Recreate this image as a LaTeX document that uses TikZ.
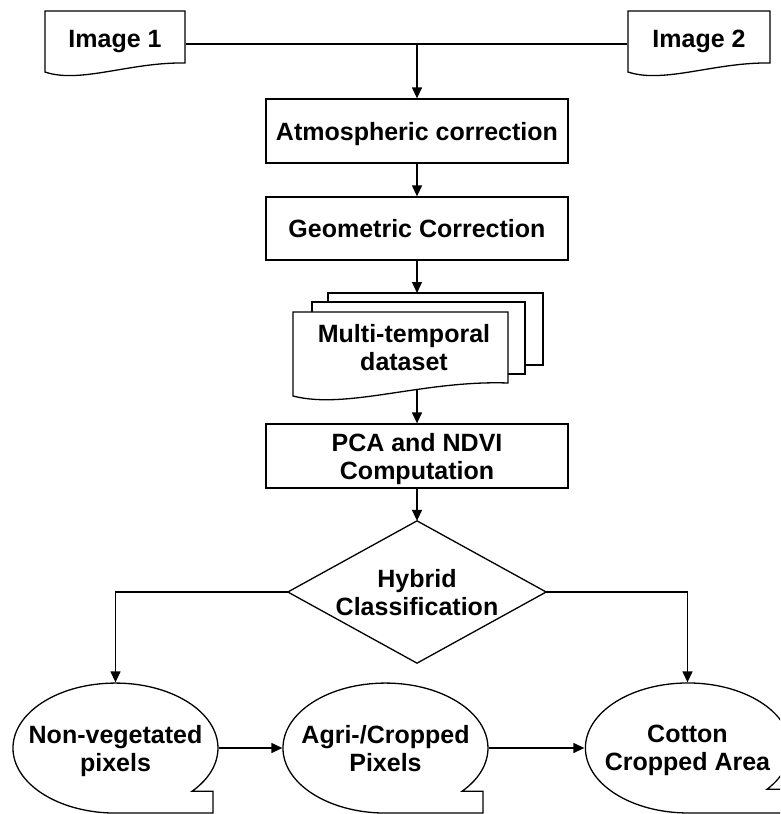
\documentclass[tikz,border=0pt]{standalone}
\usepackage{fontspec}
\setmainfont{Liberation Sans}
\usetikzlibrary{arrows.meta,calc}
\begin{document}
\begin{tikzpicture}[x=1pt,y=-1pt,
  font=\fontsize{25}{28}\selectfont\bfseries,
  line width=1.3pt,
  shapeline/.style={draw=black, line width=1.3pt, fill=white},
  outline/.style={draw=black, line width=1.3pt},
  arr/.style={-{Triangle[length=11pt,width=10pt]}, line width=1.3pt},
  procbox/.style={draw, line width=1.3pt, minimum width=302pt, minimum height=64pt, inner sep=0pt, align=center, text depth=0pt},
  lbl/.style={align=center, inner sep=0pt, text depth=0pt},
  oval/.style={rectangle, minimum width=205pt, minimum height=130pt, inner sep=0pt, align=center, text depth=0pt},
  decision/.style={rectangle, minimum width=257pt, minimum height=141pt, inner sep=0pt, align=center, text depth=0pt}]
\path[use as bounding box, clip] (0,0) rectangle (780,814);

% input documents
\draw[shapeline] (45,72) -- (45,11) -- (185,11) -- (185,63) .. controls (130,62) and (80,84) .. (45,72) -- cycle;
\node[lbl, minimum width=140pt] (img1) at (115,39) {Image 1};
\draw[shapeline] (628,72) -- (628,11) -- (770,11) -- (770,63) .. controls (715,62) and (664,84) .. (628,72) -- cycle;
\node[lbl, minimum width=142pt] (img2) at (699,39) {Image 2};
\coordinate (join) at (417,44);
\draw (img1.east |- join) -- (img2.west |- join);

% process boxes
\node[procbox] (atm) at (417,131) {Atmospheric correction};
\node[procbox, minimum height=63pt] (geo) at (417,228.5) {Geometric Correction};
\draw[arr] (join) -- (atm);
\draw[arr] (atm) -- (geo);

% multi-temporal stack
\draw[shapeline] (328,293) rectangle (543,365);
\draw[shapeline] (312,302) rectangle (525,374);
\draw[shapeline] (293,396) -- (293,312) -- (508,312) -- (508,383) .. controls (423,380) and (347,410) .. (293,396) -- cycle;
\node[lbl] (mt) at (404,347) {Multi-temporal\\dataset};
\coordinate (mtin) at (417,293);
\coordinate (mtout) at (417,390);
\draw[arr] (geo) -- (mtin);

\node[procbox] (pca) at (417,456) {PCA and NDVI\\Computation};
\draw[arr] (mtout) -- (pca);

% decision
\node[decision] (hyb) at (417,592) {Hybrid\\Classification};
\draw[outline] (hyb.north) -- (hyb.east) -- (hyb.south) -- (hyb.west) -- cycle;
\draw[arr] (pca) -- (hyb.north);

% outputs
\node[oval] (nv) at (115.5,748) {Non-vegetated\\pixels};
\node[oval] (ag) at (385.5,748) {Agri-/Cropped\\Pixels};
\node[oval] (ct) at (687.5,748) {Cotton\\Cropped Area};

\draw[outline] ($(nv.center)+(76.5,43.3)$) arc[start angle=-41.7, end angle=270, x radius=102.5pt, y radius=65pt] -- ($(nv.center)+(97.5,65)$) -- ($(nv.center)+(97.5,43.3)$) -- cycle;
\draw[outline] ($(ag.center)+(76.5,43.3)$) arc[start angle=-41.7, end angle=270, x radius=102.5pt, y radius=65pt] -- ($(ag.center)+(97.5,65)$) -- ($(ag.center)+(97.5,43.3)$) -- cycle;
\draw[outline] ($(ct.center)+(79.5,41.3)$) arc[start angle=-39.5, end angle=270, x radius=102.5pt, y radius=65pt] -- ($(ct.center)+(97.5,65)$) -- ($(ct.center)+(97.5,41.3)$) -- cycle;

\draw[arr] (hyb.west) -| (nv.north);
\draw[arr] (hyb.east) -| (ct.north);
\draw[arr] (nv.east) -- (ag.west);
\draw[arr] (ag.east) -- (ct.west);
\end{tikzpicture}
\end{document}
